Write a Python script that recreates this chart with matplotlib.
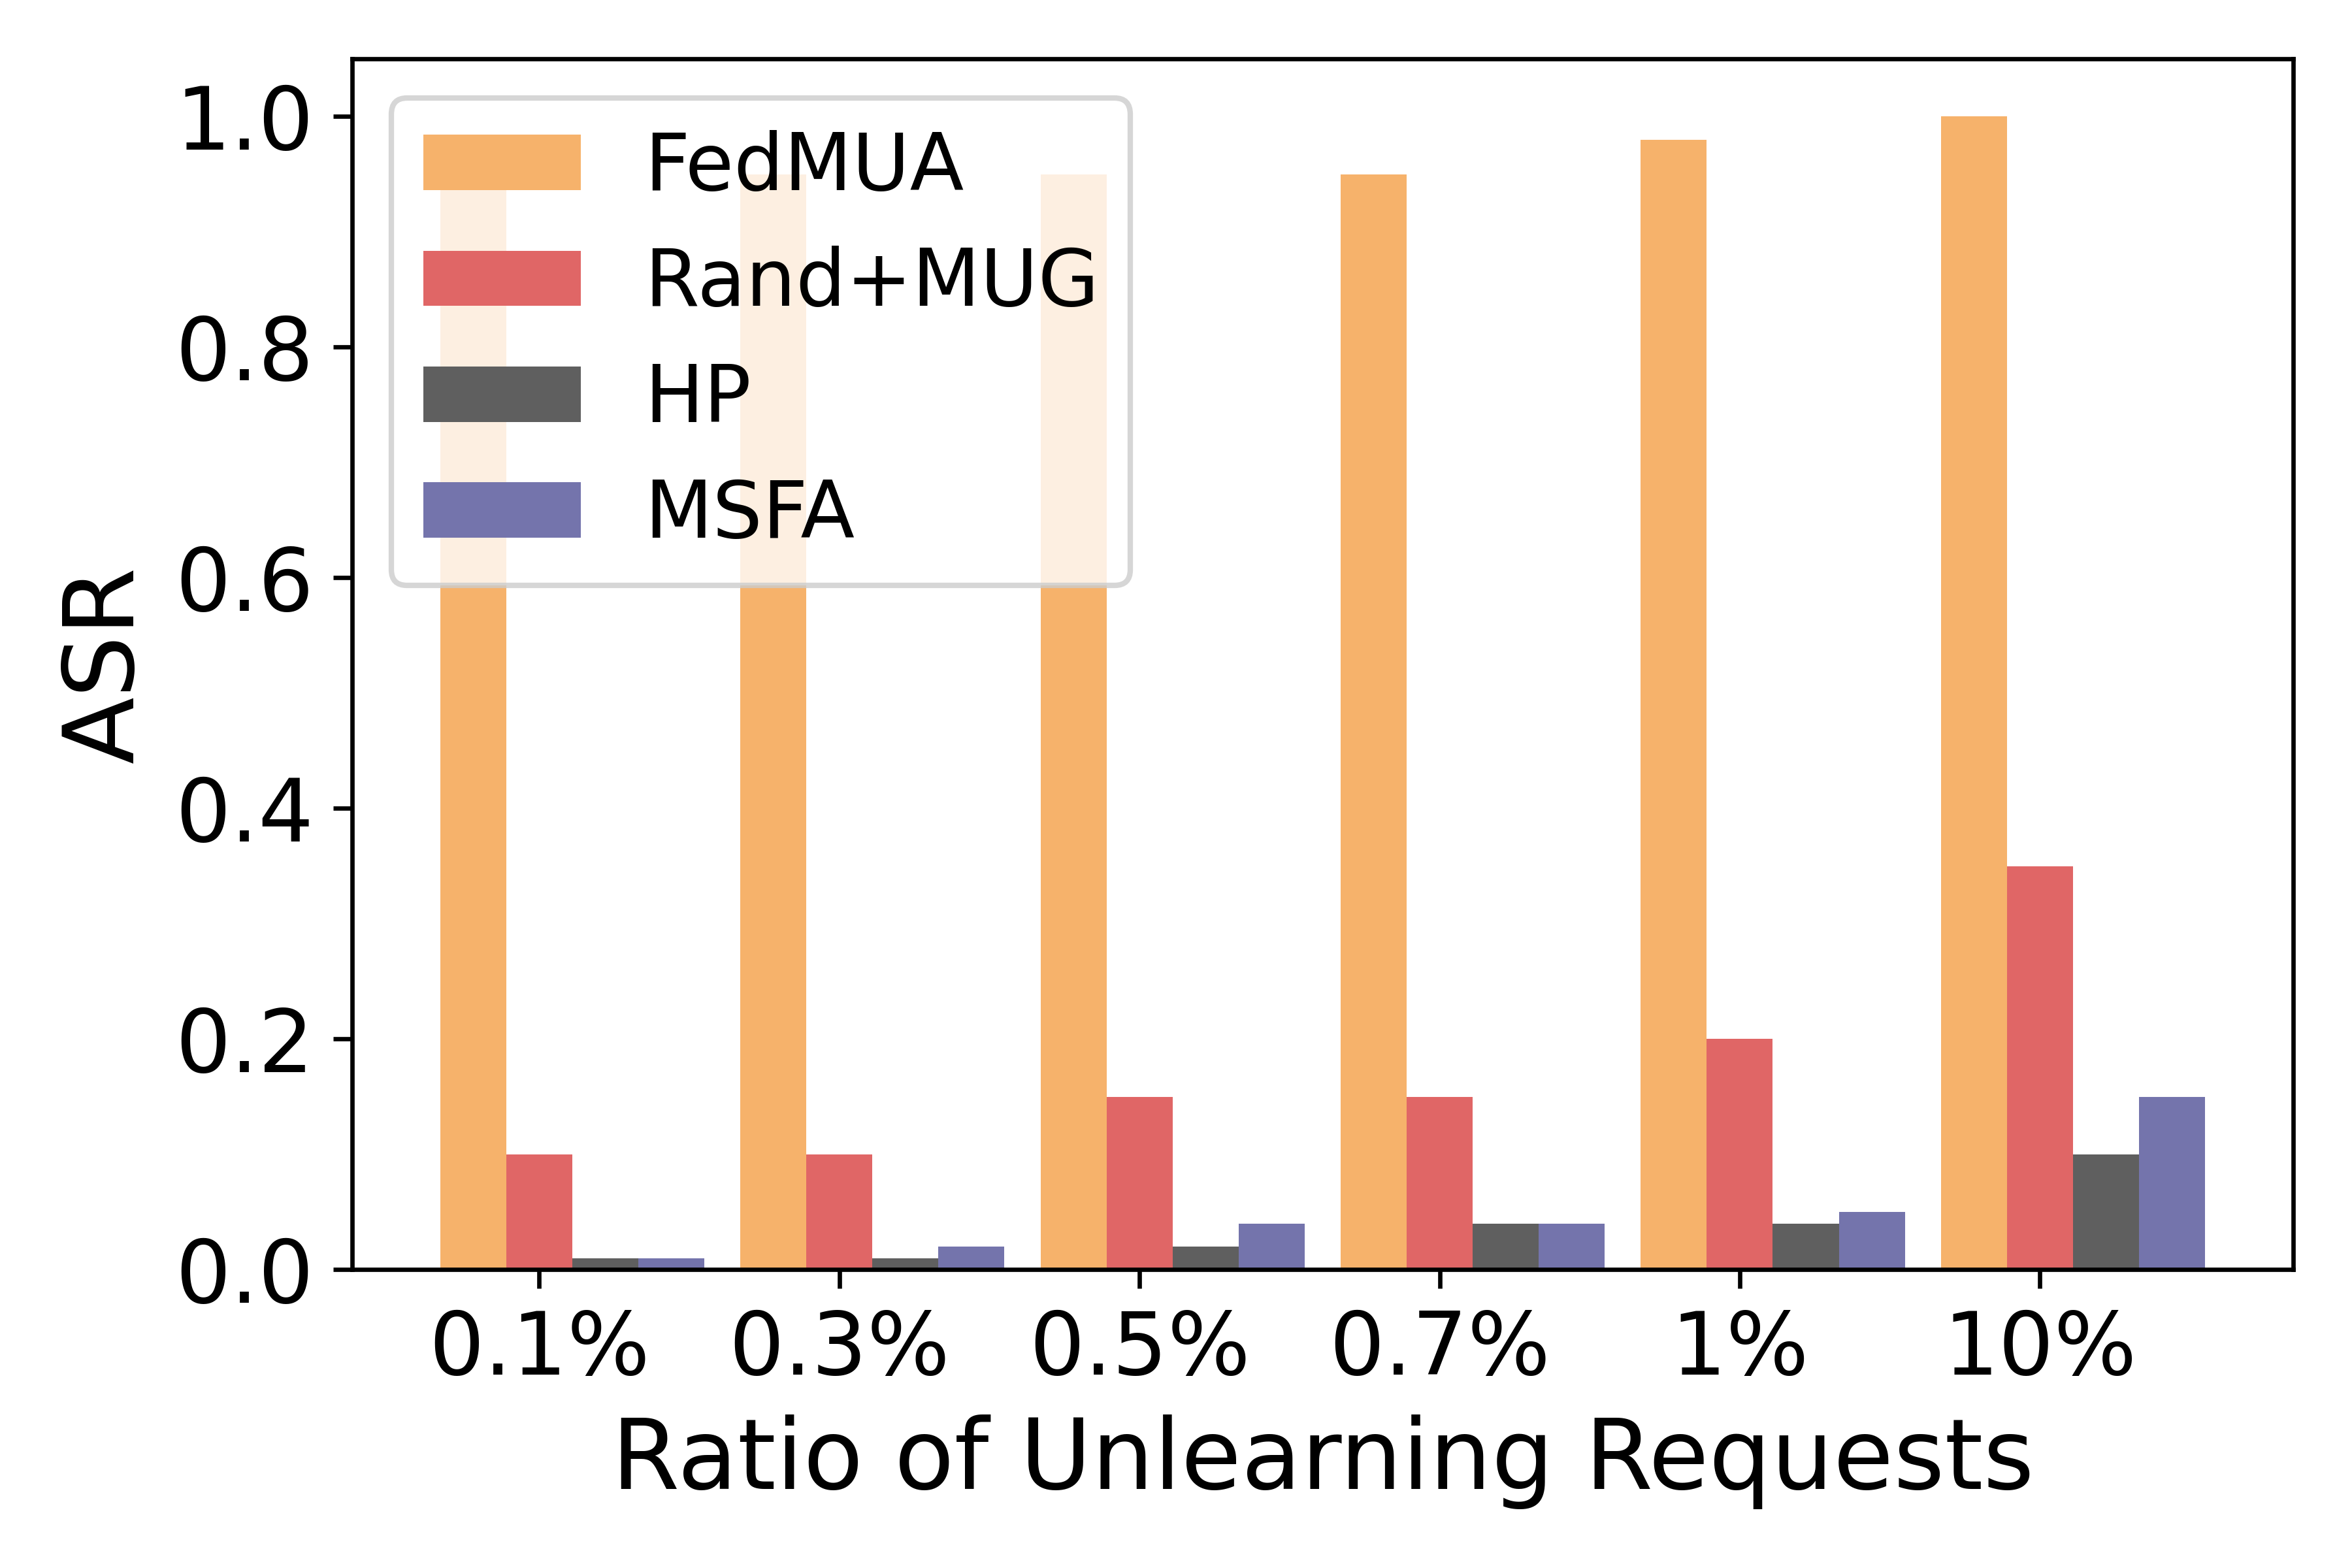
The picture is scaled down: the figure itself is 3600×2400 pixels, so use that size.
import numpy as np
import matplotlib.pyplot as plt

# Data
ratios = ['0.1%', '0.3%', '0.5%', '0.7%', '1%', '10%']
fedmua = [0.95, 0.95, 0.95, 0.95, 0.98, 1.00]
rand_mug = [0.10, 0.10, 0.15, 0.15, 0.20, 0.35]
hp = [0.01, 0.01, 0.02, 0.04, 0.04, 0.10]
msfa = [0.01, 0.02, 0.04, 0.04, 0.05, 0.15]

series = [('FedMUA', fedmua, '#F6B26B'),
          ('Rand+MUG', rand_mug, '#E06666'),
          ('HP', hp, '#5F5F5F'),
          ('MSFA', msfa, '#7474AC')]

x = np.arange(len(ratios))
width = 0.22

fig, ax = plt.subplots(figsize=(6, 4), dpi=600)
for i, (name, vals, color) in enumerate(series):
    ax.bar(x + (i - 1) * width, vals, width, label=name, color=color)

ax.set_xticks(x)
ax.set_xticklabels(ratios, fontsize=16)
ax.tick_params(axis='y', labelsize=16)
ax.set_xlabel('Ratio of Unlearning Requests', fontsize=18)
ax.set_ylabel('ASR', fontsize=18)
ax.legend(loc='upper left', fontsize=14.5)

plt.tight_layout()
plt.savefig('out.png')
